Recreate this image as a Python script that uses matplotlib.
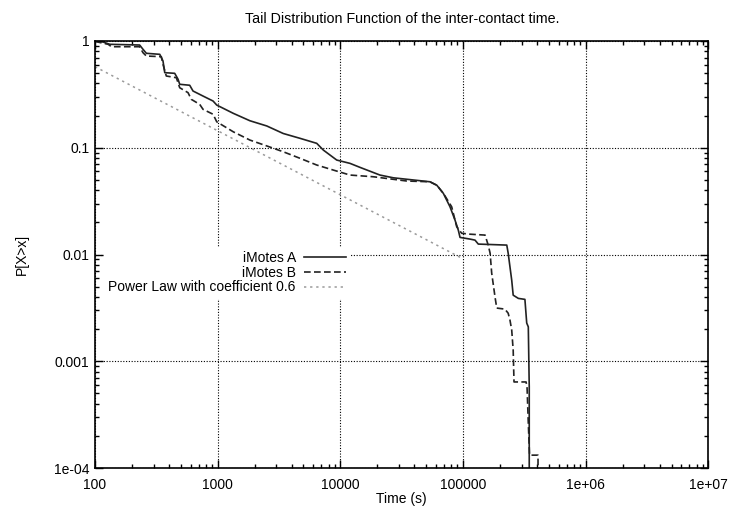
import numpy as np
import matplotlib
matplotlib.use("Agg")
import matplotlib.pyplot as plt
from matplotlib.ticker import LogLocator, FixedLocator, FixedFormatter, NullFormatter

plt.rcParams['font.family'] = ['Liberation Sans', 'DejaVu Sans']

# iMotes A (solid)
a_x = [100, 116, 132, 231, 246, 262, 337, 358, 370, 446, 475, 490, 591, 629, 759, 916,
       982, 1340, 1830, 2510, 3420, 4690, 6410, 7260, 9330, 11970, 14440, 21000, 27000,
       53700, 60900, 69000, 78200, 85900, 91400, 94400, 114000, 125000, 133000, 227000,
       233000, 249000, 256000, 282000, 319000, 330000, 340000, 346000, 346000]
a_y = [1.0, 0.979, 0.931, 0.917, 0.836, 0.767, 0.750, 0.650, 0.505, 0.498, 0.438, 0.393,
       0.385, 0.340, 0.305, 0.274, 0.251, 0.210, 0.179, 0.160, 0.136, 0.1225, 0.110,
       0.0951, 0.0767, 0.0714, 0.0655, 0.0555, 0.0523, 0.048, 0.0447, 0.0374, 0.028,
       0.021, 0.0169, 0.01446, 0.01394, 0.01364, 0.01252, 0.01225, 0.0103, 0.00575,
       0.00416, 0.00388, 0.0038, 0.00228, 0.0021, 0.000575, 1e-6]

# iMotes B (dashed)
b_x = [100, 128, 136, 231, 246, 262, 347, 358, 381, 460, 490, 573, 609, 713, 759, 916,
       982, 1340, 1830, 2510, 3420, 4690, 6410, 8750, 11970, 18540, 34700, 53700, 61500,
       69500, 80700, 88700, 97400, 114000, 151000, 160000, 166000, 171000, 182000,
       188000, 219000, 233000, 241000, 249000, 256000, 260000, 326000, 332000, 340000,
       348000, 408000, 408000]
b_y = [0.99, 0.931, 0.884, 0.884, 0.777, 0.723, 0.713, 0.605, 0.470, 0.453, 0.365, 0.328,
       0.284, 0.255, 0.229, 0.206, 0.175, 0.141, 0.118, 0.104, 0.0917, 0.0796, 0.0689,
       0.0618, 0.0555, 0.0535, 0.0488, 0.048, 0.0442, 0.0370, 0.028, 0.0182, 0.0158,
       0.0155, 0.0152, 0.0123, 0.0103, 0.0067, 0.00401, 0.00315, 0.00308, 0.00282,
       0.00243, 0.00196, 0.00127, 0.00064, 0.00064, 0.000575, 0.000263, 0.000132,
       0.000132, 1e-6]

# power law reference line
pl_coef = 0.6
pl_scale = 9.1
pl_x = np.array([100, 1e5])
pl_y = pl_scale * pl_x ** (-pl_coef)

x_ticks = [100, 1000, 10000, 100000, 1e6, 1e7]
x_labels = ['100', '1000', '10000', '100000', '1e+06', '1e+07']
y_ticks = [1e-4, 1e-3, 1e-2, 1e-1, 1]
y_labels = ['1e-04', '0.001', '0.01', '0.1', '1']

fig = plt.figure(figsize=(7.39, 5.08), dpi=100)
ax = fig.add_axes([0.1286, 0.0787, 0.9587 - 0.1286, 0.9193 - 0.0787])

ax.plot(a_x, a_y, color='#222222', lw=1.2, label='iMotes A')
ax.plot(b_x, b_y, color='#222222', lw=1.2, ls=(0, (4, 2)), label='iMotes B')
ax.plot(pl_x, pl_y, color='#9a9a9a', lw=1.1, ls=(0, (1.5, 2.5)),
        label='Power Law with coefficient 0.6')

ax.set_xscale('log')
ax.set_yscale('log')
ax.set_xlim(100, 1e7)
ax.set_ylim(1e-4, 1)

ax.xaxis.set_major_locator(FixedLocator(x_ticks))
ax.xaxis.set_major_formatter(FixedFormatter(x_labels))
ax.yaxis.set_major_locator(FixedLocator(y_ticks))
ax.yaxis.set_major_formatter(FixedFormatter(y_labels))
ax.xaxis.set_minor_locator(LogLocator(base=10, subs=np.arange(2, 10), numticks=20))
ax.yaxis.set_minor_locator(LogLocator(base=10, subs=np.arange(2, 10), numticks=20))
ax.xaxis.set_minor_formatter(NullFormatter())
ax.yaxis.set_minor_formatter(NullFormatter())

ax.tick_params(which='both', direction='in', top=True, right=True, labelsize=10)
ax.tick_params(which='major', length=6, width=1)
ax.tick_params(which='minor', length=3, width=1)
ax.tick_params(axis='x', pad=7)
ax.tick_params(axis='y', pad=4)

ax.grid(True, which='major', color='black', ls=(0, (1, 1.5)), lw=0.8)
for s in ax.spines.values():
    s.set_linewidth(1.2)

ax.set_title('Tail Distribution Function of the inter-contact time.', fontsize=10.3, pad=13)
ax.set_xlabel('Time (s)', fontsize=10, labelpad=0.5)
ax.set_ylabel('P[X>x]', fontsize=10, labelpad=18)

leg = ax.legend(loc='upper right', bbox_to_anchor=(0.4156, 0.518), markerfirst=False,
                frameon=True, fontsize=10, handlelength=3.0, handletextpad=0.6,
                labelspacing=0.05, borderaxespad=0, borderpad=0.3, fancybox=False)
leg.get_frame().set_edgecolor('none')
leg.get_frame().set_facecolor('white')
leg.get_frame().set_alpha(1)
for t in leg.get_texts():
    t.set_ha('right')
leg._legend_box.align = 'right'

fig.savefig('out.png', dpi=100)
